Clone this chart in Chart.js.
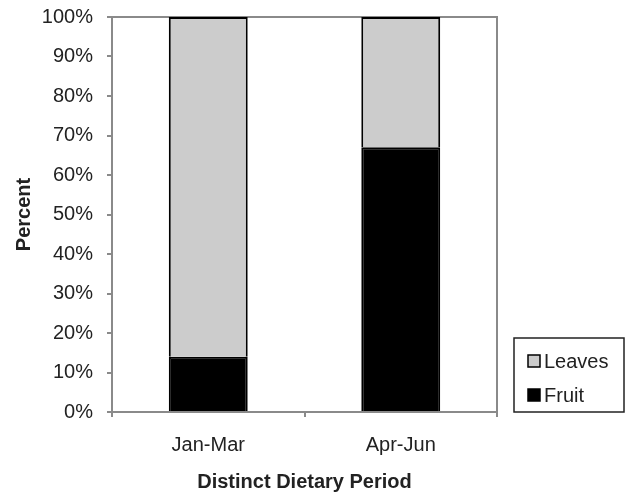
<!DOCTYPE html>
<html lang="en">
<head>
<meta charset="UTF-8">
<title>Distinct Dietary Period</title>
<script src="https://cdn.jsdelivr.net/npm/chart.js"></script>
<style>
  body { margin: 0; background: #fff; }
  #wrap { width: 630px; height: 496px; position: relative; }
</style>
</head>
<body>
<div id="wrap"><canvas id="myChart" width="630" height="496"></canvas></div>
<script>
// data
const periods = ['Jan-Mar', 'Apr-Jun'];
const fruit = [14, 67];
const leaves = [86, 33];
const yTicks = [0, 10, 20, 30, 40, 50, 60, 70, 80, 90, 100];

const frameColor = '#8a8a8a';
const textColor = '#222';

// box round the plot area + the legend box at the lower right
const framePlugin = {
  id: 'frame',
  beforeDatasetsDraw(chart) {
    const {ctx, chartArea} = chart;
    ctx.save();
    ctx.strokeStyle = frameColor;
    ctx.lineWidth = 2;
    ctx.strokeRect(chartArea.left, chartArea.top, chartArea.right - chartArea.left, chartArea.bottom - chartArea.top);
    ctx.restore();
  },
  afterDraw(chart) {
    const ctx = chart.ctx;
    const sets = chart.data.datasets.slice().reverse();
    ctx.save();
    ctx.strokeStyle = '#222';
    ctx.lineWidth = 1.5;
    ctx.strokeRect(514, 338, 110, 74);
    ctx.font = '20px "Liberation Sans", Arial, sans-serif';
    ctx.textBaseline = 'middle';
    sets.forEach((ds, i) => {
      const y = 361 + i * 34;
      ctx.fillStyle = ds.backgroundColor;
      ctx.fillRect(528, y - 6, 12, 12);
      ctx.strokeStyle = '#000';
      ctx.lineWidth = 1.5;
      ctx.strokeRect(528, y - 6, 12, 12);
      ctx.fillStyle = textColor;
      ctx.textAlign = 'left';
      ctx.fillText(ds.label, 544, y + 1);
    });
    ctx.restore();
  }
};

const ctx = document.getElementById('myChart').getContext('2d');
new Chart(ctx, {
  type: 'bar',
  data: {
    labels: periods,
    datasets: [
      { label: 'Fruit', data: fruit, backgroundColor: '#000000', borderColor: '#000000', borderWidth: 2 },
      { label: 'Leaves', data: leaves, backgroundColor: '#cccccc', borderColor: '#000000', borderWidth: 2 }
    ]
  },
  options: {
    responsive: false,
    animation: false,
    events: [],
    layout: { padding: { top: 17, right: 133, left: 0, bottom: 0 } },
    datasets: { bar: { categoryPercentage: 1, barPercentage: 0.41 } },
    plugins: { legend: { display: false }, tooltip: { enabled: false } },
    scales: {
      x: {
        stacked: true,
        afterFit: (s) => { s.height = 84; s.paddingLeft = 0; s.paddingRight = 0; },
        grid: { drawOnChartArea: false, drawTicks: true, tickLength: 5, color: frameColor, lineWidth: 2, offset: true },
        border: { color: frameColor, width: 2 },
        ticks: { color: textColor, padding: 16, font: { family: '"Liberation Sans", Arial, sans-serif', size: 20 } },
        title: { display: true, text: 'Distinct Dietary Period', color: textColor, padding: { top: 0, bottom: 2 },
          font: { family: '"Liberation Sans", Arial, sans-serif', size: 20, weight: 'bold' } }
      },
      y: {
        stacked: true,
        min: 0,
        max: 100,
        afterFit: (s) => { s.width = 112; s.paddingTop = 0; s.paddingBottom = 0; },
        afterBuildTicks: (s) => { s.ticks = yTicks.map(v => ({ value: v })); },
        grid: { drawOnChartArea: false, drawTicks: true, tickLength: 5, color: frameColor, lineWidth: 2 },
        border: { color: frameColor, width: 2 },
        ticks: { color: textColor, padding: 14, callback: (v) => v + '%',
          font: { family: '"Liberation Sans", Arial, sans-serif', size: 20 } },
        title: { display: true, text: 'Percent', color: textColor, padding: { top: 12, bottom: 0 },
          font: { family: '"Liberation Sans", Arial, sans-serif', size: 20, weight: 'bold' } }
      }
    }
  },
  plugins: [framePlugin]
});
</script>
</body>
</html>
